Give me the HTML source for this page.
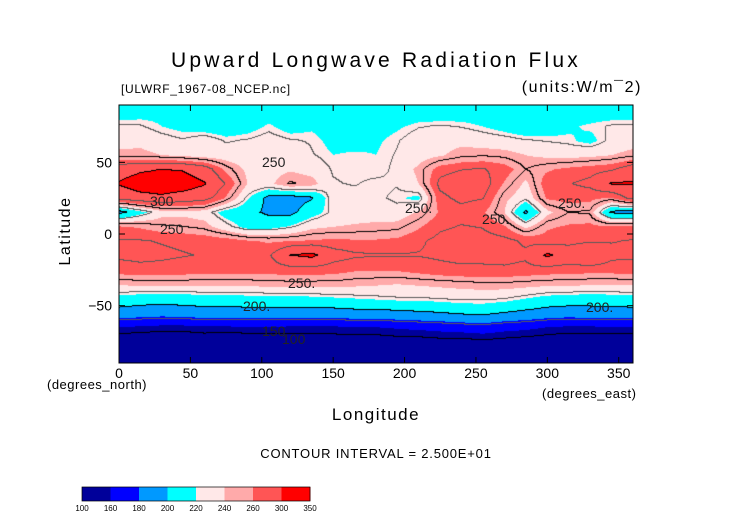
<!DOCTYPE html>
<html><head><meta charset="utf-8"><style>
body{margin:0;background:#fff;width:752px;height:532px;overflow:hidden;font-family:"Liberation Sans",sans-serif;}
.t{position:absolute;white-space:nowrap;color:#000;}
</style></head><body>
<div style="position:relative;width:752px;height:532px">
<div class="t" style="left:0;width:752px;text-align:center;top:49px;font-size:21px;letter-spacing:3.2px">Upward Longwave Radiation Flux</div>
<div class="t" style="left:121px;top:82px;font-size:12px;letter-spacing:0.7px">[ULWRF_1967-08_NCEP.nc]</div>
<div class="t" style="right:110px;top:79px;font-size:16px;letter-spacing:1.6px">(units:W/m¯2)</div>
<canvas id="cv" width="514" height="258" style="position:absolute;left:119px;top:105px"></canvas>
<svg id="ax" width="752" height="532" style="position:absolute;left:0;top:0"></svg>
<div class="t" style="left:28px;top:222px;font-size:16px;letter-spacing:1.5px;transform:rotate(-90deg);transform-origin:center;width:76px;text-align:center">Latitude</div>
<div class="t" style="left:47px;top:377px;font-size:13px;letter-spacing:0.5px">(degrees_north)</div>
<div class="t" style="left:0;width:752px;text-align:center;top:405px;font-size:17px;letter-spacing:1.5px">Longitude</div>
<div class="t" style="left:542px;top:386px;font-size:13px;letter-spacing:0.5px">(degrees_east)</div>
<div class="t" style="left:0;width:752px;text-align:center;top:446px;font-size:13px;letter-spacing:0.8px">CONTOUR INTERVAL = 2.500E+01</div>
</div>
<script>
const lons=[0,15,30,45,60,75,90,105,120,135,150,165,180,195,210,225,240,255,270,285,300,315,330,345];
const lats=[85,75,65,55,45,35,25,15,5,-5,-15,-25,-35,-45,-55,-65,-75,-85];
const r85=[212,214,216,214,210,208,210,212,210,208,210,212,210,208,210,210,212,210,208,210,212,214,212,212];
const r75=[226,226,220,216,212,210,214,222,214,218,212,210,214,218,224,226,224,220,214,208,212,218,222,226];
const r65=[232,236,230,226,232,224,226,230,226,224,216,214,218,224,232,234,236,232,230,226,224,222,216,228];
const r55=[246,244,240,236,232,230,228,230,234,226,220,222,220,226,232,238,246,248,246,240,236,234,236,240];
const r45=[288,296,300,298,286,256,236,234,238,234,224,222,220,228,244,268,274,276,268,250,258,264,268,272];
const r35=[302,312,314,312,302,274,240,236,252,246,226,224,228,226,240,280,288,286,258,236,270,274,280,302];
const r25=[284,292,296,290,284,258,222,194,192,198,232,230,228,222,216,270,280,276,244,228,262,266,264,258];
const r15=[192,214,234,236,232,212,206,196,194,212,228,232,232,230,242,262,268,262,240,196,236,250,248,196];
const r05=[262,258,252,250,246,230,214,214,222,236,240,242,244,246,258,272,276,274,262,236,258,262,264,262];
const rm05=[276,276,274,272,270,268,262,258,260,262,264,262,262,264,272,280,282,282,280,272,266,268,272,274];
const rm15=[278,280,278,276,274,274,272,272,300,306,284,278,276,276,276,278,280,280,282,278,304,290,300,280];
const rm25=[268,270,270,268,266,266,266,266,268,268,266,262,262,262,266,270,272,272,272,270,268,266,266,266];
const rm35=[242,244,244,244,244,244,244,246,246,246,246,244,242,240,242,244,246,248,248,246,244,244,242,242];
const rm45=[214,210,210,210,212,212,214,214,214,216,218,220,222,224,224,226,228,228,226,220,214,212,210,212];
const rm55=[192,190,188,190,192,192,192,192,192,192,192,194,194,196,198,200,204,206,200,196,192,190,192,192];
const rm65=[160,158,156,156,158,158,160,160,158,158,158,160,160,162,164,166,168,170,166,164,160,158,158,160];
const rm75=[140,138,138,138,140,138,138,138,140,140,142,142,142,144,144,146,146,148,146,144,142,140,140,140];
const rm85=[130,130,130,130,130,130,130,130,130,130,130,130,130,130,130,130,130,130,130,130,130,130,130,130];
const grid=[r85,r75,r65,r55,r45,r35,r25,r15,r05,rm05,rm15,rm25,rm35,rm45,rm55,rm65,rm75,rm85];
const levels=[100,160,180,200,220,240,260,300,350];
const colors=['#00009a','#0000ff','#0099ff','#00ffff','#ffe8e8','#ffaaaa','#ff5555','#ff0000'];
const xTicks=[0,50,100,150,200,250,300,350];
const yTicks=[50,0,-50];
const PL=119,PT=105,PW=514,PH=258;
const xs=lon=>PL+lon*PW/360, ys=lat=>PT+(90-lat)*PH/180;
function val(lon,lat){
  let fi=(lon-lons[0])/15; let i0=Math.floor(fi), fx=fi-i0;
  let fj=(lats[0]-lat)/10; fj=Math.max(0,Math.min(lats.length-1,fj)); let j0=Math.floor(fj), fy=fj-j0; let j1=Math.min(j0+1,lats.length-1);
  const n=lons.length, a=((i0%n)+n)%n, b=(a+1)%n;
  return (grid[j0][a]*(1-fx)+grid[j0][b]*fx)*(1-fy)+(grid[j1][a]*(1-fx)+grid[j1][b]*fx)*fy;
}
function bin(v){for(let k=levels.length-2;k>=0;k--) if(v>=levels[k]) return k; return 0;}
const cv=document.getElementById('cv'),ctx=cv.getContext('2d');
const W=PW,H=PH,V=new Float32Array(W*H);
for(let y=0;y<H;y++)for(let x=0;x<W;x++)V[y*W+x]=val((x+0.5)*360/W,90-(y+0.5)*180/H);
const img=ctx.createImageData(W,H);
const rgb=colors.map(c=>[parseInt(c.substr(1,2),16),parseInt(c.substr(3,2),16),parseInt(c.substr(5,2),16)]);
for(let y=0;y<H;y++)for(let x=0;x<W;x++){
  const v=V[y*W+x];let c=rgb[bin(v)];
  const l=Math.floor(v/25);
  const vr=x+1<W?V[y*W+x+1]:v, vd=y+1<H?V[(y+1)*W+x]:v;
  const lr=Math.floor(vr/25), ld=Math.floor(vd/25);
  if(l!==lr||l!==ld){const m=Math.max(l,lr,ld);c=(m%2===0)?[0,0,0]:[90,90,90];}
  const p=(y*W+x)*4;img.data[p]=c[0];img.data[p+1]=c[1];img.data[p+2]=c[2];img.data[p+3]=255;
}
ctx.putImageData(img,0,0);
const ns='http://www.w3.org/2000/svg',ax=document.getElementById('ax');
function el(t,a){const e=document.createElementNS(ns,t);for(const k in a)e.setAttribute(k,a[k]);ax.appendChild(e);return e;}
const fr=el('rect',{x:PL,y:PT,width:PW,height:PH,fill:'none',stroke:'#000','stroke-width':1});


xTicks.forEach(t=>{
  el('line',{x1:xs(t),x2:xs(t),y1:PT+PH,y2:PT+PH-6,stroke:'#000'});
  el('line',{x1:xs(t),x2:xs(t),y1:PT,y2:PT+6,stroke:'#000'});
  const tx=el('text',{x:xs(t),y:378,'text-anchor':'middle','font-size':14,'font-family':'Liberation Sans, sans-serif'});tx.textContent=t;
  
  
});
yTicks.forEach(t=>{
  el('line',{x1:PL,x2:PL+6,y1:ys(t),y2:ys(t),stroke:'#000'});
  el('line',{x1:PL+PW,x2:PL+PW-6,y1:ys(t),y2:ys(t),stroke:'#000'});
  const tx=el('text',{x:112,y:ys(t)+5,'text-anchor':'end','font-size':14,'font-family':'Liberation Sans, sans-serif'});tx.textContent=t===-50?'−50':t;
  
  
});
const clabs=[[262,167,'250'],[150,206,'300'],[160,234,'250'],[288,288,'250.'],[405,213,'250.'],[482,224,'250.'],[558,208,'250.'],[243,311,'200.'],[586,312,'200.'],[262,336,'150'],[282,344,'100']];
clabs.forEach(c=>{const tx=el('text',{x:c[0],y:c[1],'font-size':14,'font-family':'Liberation Sans, sans-serif',fill:'#222'});tx.textContent=c[2];
  
  });
const cbL=82,cbT=487,cbW=228,cbH=14,seg=cbW/colors.length;
colors.forEach((c,i)=>{const r=el('rect',{x:cbL+i*seg,y:cbT,width:seg+0.5,height:cbH,fill:c});
  
  });
el('rect',{x:cbL,y:cbT,width:cbW,height:cbH,fill:'none',stroke:'#000','stroke-width':0.7});
levels.forEach((l,i)=>{const tx=el('text',{x:cbL+i*seg,y:511,'text-anchor':'middle','font-size':8,'font-family':'Liberation Sans, sans-serif'});tx.textContent=l;
  
  });
</script>
</body></html>
